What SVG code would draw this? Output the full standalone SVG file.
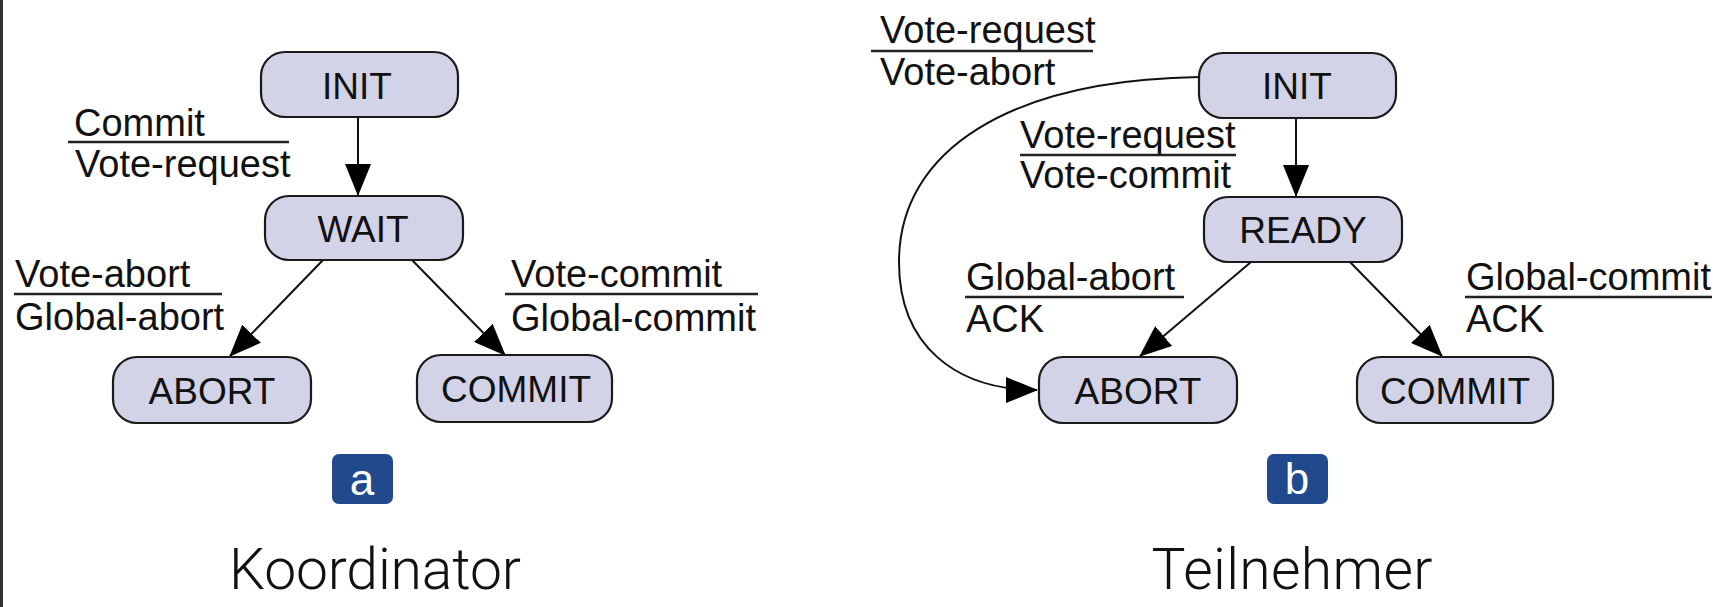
<svg xmlns="http://www.w3.org/2000/svg" width="1724" height="607" viewBox="0 0 1724 607">
<style>
.node rect{fill:#d3d3e8;stroke:#1a1a1a;stroke-width:2.2}
.nt{font-family:"Liberation Sans",Arial,sans-serif;font-size:37px;fill:#111;text-anchor:middle}
.lb{font-family:"Liberation Sans",Arial,sans-serif;font-size:38px;fill:#111}
.ul{stroke:#222;stroke-width:2.4}
.edge{stroke:#111;stroke-width:2;fill:none;marker-end:url(#ah)}
.badge rect{fill:#214a8e}
.badge text{font-family:"Liberation Sans",Arial,sans-serif;font-size:44px;fill:#fff;text-anchor:middle}
.title{font-family:Roboto,"Open Sans",sans-serif;font-weight:300;font-size:57px;fill:#111;text-anchor:middle}
</style>
<defs>
<marker id="ah" markerUnits="userSpaceOnUse" markerWidth="32" markerHeight="26" viewBox="0 0 32 26" refX="31" refY="13" orient="auto">
<path d="M0,0 L32,13 L0,26 z" fill="#000"/>
</marker>
</defs>
<rect x="0" y="0" width="1724" height="607" fill="#fff"/>
<rect x="0" y="0" width="3" height="607" fill="#333"/>

<g id="connectors">
<line class="edge" x1="358" y1="117" x2="358" y2="195"/>
<line class="edge" x1="323" y1="260" x2="230" y2="356"/>
<line class="edge" x1="412" y1="260" x2="505" y2="355"/>
<line class="edge" x1="1296" y1="118" x2="1296" y2="196"/>
<line class="edge" x1="1251" y1="262" x2="1140" y2="356"/>
<line class="edge" x1="1350" y1="262" x2="1442" y2="356"/>
<path class="edge" d="M1199,77 C1010,80 899,150 899,262 C899,345 955,390 1037,390"/>
</g>

<g id="labels-a">
<text class="lb" x="74" y="136">Commit</text>
<line class="ul" x1="68" y1="142" x2="289" y2="142"/>
<text class="lb" x="75" y="177">Vote-request</text>
<text class="lb" x="15" y="287">Vote-abort</text>
<line class="ul" x1="14" y1="294" x2="222" y2="294"/>
<text class="lb" x="15" y="330">Global-abort</text>
<text class="lb" x="511" y="287">Vote-commit</text>
<line class="ul" x1="505" y1="294" x2="758" y2="294"/>
<text class="lb" x="511" y="331">Global-commit</text>
</g>

<g id="labels-b">
<text class="lb" x="880" y="43">Vote-request</text>
<line class="ul" x1="871" y1="51" x2="1093" y2="51"/>
<text class="lb" x="880" y="85">Vote-abort</text>
<text class="lb" x="1020" y="148">Vote-request</text>
<line class="ul" x1="1020" y1="155" x2="1236" y2="155"/>
<text class="lb" x="1020" y="188">Vote-commit</text>
<text class="lb" x="966" y="290">Global-abort</text>
<line class="ul" x1="965" y1="297" x2="1184" y2="297"/>
<text class="lb" x="966" y="332">ACK</text>
<text class="lb" x="1466" y="290">Global-commit</text>
<line class="ul" x1="1465" y1="297" x2="1712" y2="297"/>
<text class="lb" x="1466" y="332">ACK</text>
</g>

<g id="a-init" class="node"><rect x="261" y="52" width="197" height="65" rx="24"/><text class="nt" x="357" y="99">INIT</text></g>
<g id="a-wait" class="node"><rect x="265" y="196" width="198" height="64" rx="24"/><text class="nt" x="363" y="242">WAIT</text></g>
<g id="a-abort" class="node"><rect x="113" y="357" width="198" height="66" rx="24"/><text class="nt" x="212" y="404">ABORT</text></g>
<g id="a-commit" class="node"><rect x="417" y="355" width="195" height="67" rx="24"/><text class="nt" x="516" y="402">COMMIT</text></g>

<g id="b-init" class="node"><rect x="1199" y="53" width="197" height="65" rx="24"/><text class="nt" x="1297" y="99">INIT</text></g>
<g id="b-ready" class="node"><rect x="1204" y="197" width="198" height="65" rx="24"/><text class="nt" x="1303" y="243">READY</text></g>
<g id="b-abort" class="node"><rect x="1039" y="357" width="198" height="66" rx="24"/><text class="nt" x="1138" y="404">ABORT</text></g>
<g id="b-commit" class="node"><rect x="1357" y="357" width="196" height="66" rx="24"/><text class="nt" x="1455" y="404">COMMIT</text></g>

<g id="badge-a" class="badge"><rect x="332" y="454" width="61" height="50" rx="7"/><text x="362" y="495">a</text></g>
<g id="badge-b" class="badge"><rect x="1267" y="454" width="61" height="50" rx="7"/><text x="1297" y="494">b</text></g>

<g id="titles">
<text class="title" x="375" y="589" textLength="292">Koordinator</text>
<text class="title" x="1292" y="589" textLength="281">Teilnehmer</text>
</g>
</svg>
